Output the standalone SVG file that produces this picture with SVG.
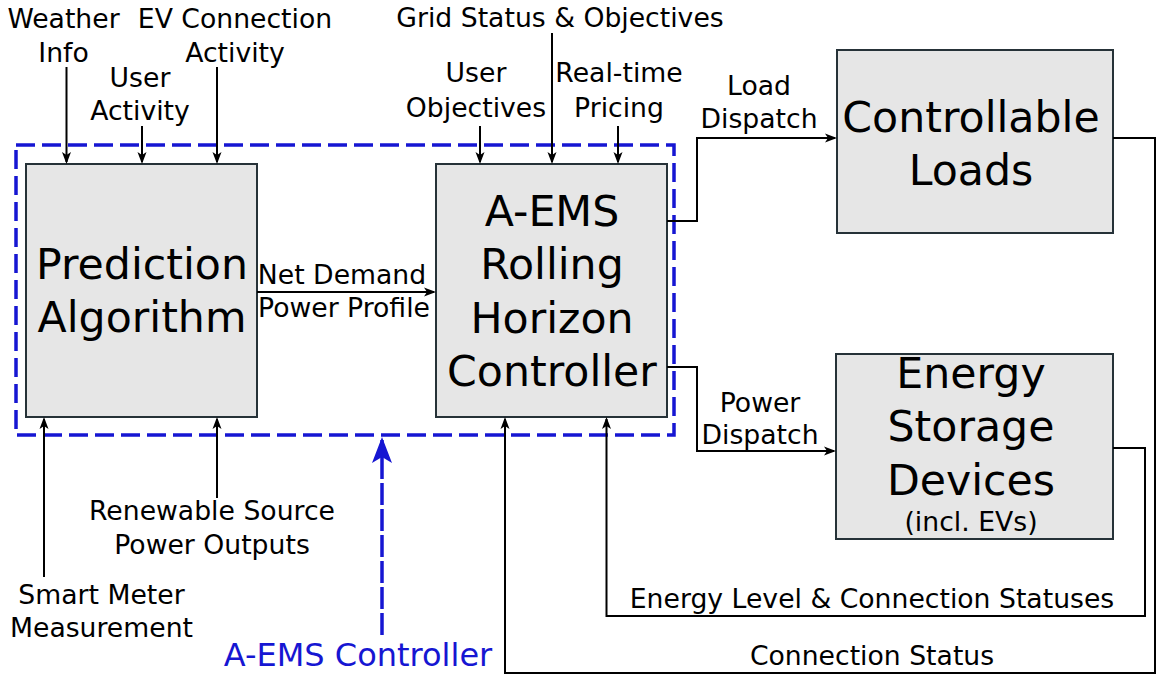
<svg xmlns="http://www.w3.org/2000/svg" width="1157" height="677" viewBox="0 0 1157 677">
<style>
text{font-family:"DejaVu Sans","Liberation Sans",sans-serif;fill:#000;text-anchor:middle}
.lbl{font-size:26.67px}
.big{font-size:42.67px}
.blue{font-size:32px;fill:#1616d2}
.box{fill:#e6e6e6;stroke:#263238;stroke-width:2}
.con{fill:none;stroke:#000;stroke-width:2;marker-end:url(#ah)}
.line{fill:none;stroke:#000;stroke-width:2}
.dash{fill:none;stroke:#1616d2;stroke-width:3.5;stroke-dasharray:19 7}
</style>
<defs>
<marker id="ah" markerUnits="userSpaceOnUse" markerWidth="12" markerHeight="10" refX="10" refY="4.5" orient="auto" overflow="visible">
<path d="M0,0 L12,4.5 L0,9 L3,4.5 z" fill="#000"/>
</marker>
<marker id="bah" markerUnits="userSpaceOnUse" markerWidth="26" markerHeight="21" refX="23" refY="10" orient="auto" overflow="visible">
<path d="M0,0 L26,10 L0,20 L6,10 z" fill="#1616d2"/>
</marker>
</defs>
<rect width="1157" height="677" fill="#fff"/>

<g id="aems-controller-group">
<rect x="16" y="145" width="658" height="290" class="dash"/>
</g>

<g id="prediction">
<rect class="box" x="26" y="164" width="231" height="253"/>
<text class="big" x="142" y="279">Prediction</text>
<text class="big" x="142" y="332">Algorithm</text>
</g>

<g id="aems">
<rect class="box" x="436" y="164" width="231" height="253"/>
<text class="big" x="552" y="226">A-EMS</text>
<text class="big" x="552" y="279">Rolling</text>
<text class="big" x="552" y="333">Horizon</text>
<text class="big" x="552" y="386">Controller</text>
</g>

<g id="loads">
<rect class="box" x="837" y="50" width="276" height="183"/>
<text class="big" x="971" y="132">Controllable</text>
<text class="big" x="971" y="185">Loads</text>
</g>

<g id="storage">
<rect class="box" x="836" y="354" width="277" height="185"/>
<text class="big" x="971" y="388">Energy</text>
<text class="big" x="971" y="441">Storage</text>
<text class="big" x="971" y="495">Devices</text>
<text class="lbl" x="971" y="531">(incl. EVs)</text>
</g>

<g id="connectors">
<path class="con" d="M66.5,67 V162"/>
<path class="con" d="M142,126 V162"/>
<path class="con" d="M217,67 V162"/>
<path class="con" d="M480,126 V162"/>
<path class="con" d="M552,33 V162"/>
<path class="con" d="M618,126 V162"/>
<path class="con" d="M257,292 H434"/>
<path class="con" d="M667,221 H697 V138 H835"/>
<path class="con" d="M667,367 H697 V451 H834"/>
<path class="con" d="M1113,448 H1145 V616 H606.5 V419"/>
<path class="con" d="M1113,138 H1155 V673 H505 V419"/>
<path class="con" d="M44,577 V419"/>
<path class="con" d="M217,498 V419"/>
<path d="M382,635 V440" fill="none" stroke="#1616d2" stroke-width="3.5" stroke-dasharray="22 4" marker-end="url(#bah)"/>
</g>

<g id="labels">
<text class="lbl" x="63.5" y="28">Weather</text>
<text class="lbl" x="63.5" y="61.5">Info</text>
<text class="lbl" x="235" y="28">EV Connection</text>
<text class="lbl" x="235" y="61.5">Activity</text>
<text class="lbl" x="140" y="86.5">User</text>
<text class="lbl" x="140" y="120">Activity</text>
<text class="lbl" x="560" y="27">Grid Status &amp; Objectives</text>
<text class="lbl" x="476" y="82">User</text>
<text class="lbl" x="476" y="116.5">Objectives</text>
<text class="lbl" x="619" y="82">Real-time</text>
<text class="lbl" x="619" y="116.5">Pricing</text>
<text class="lbl" x="759" y="95">Load</text>
<text class="lbl" x="759" y="128">Dispatch</text>
<text class="lbl" x="342" y="284">Net Demand</text>
<text class="lbl" x="344" y="317">Power Profile</text>
<text class="lbl" x="760" y="411.5">Power</text>
<text class="lbl" x="760" y="444">Dispatch</text>
<text class="lbl" x="872" y="608">Energy Level &amp; Connection Statuses</text>
<text class="lbl" x="872" y="665">Connection Status</text>
<text class="lbl" x="212" y="520">Renewable Source</text>
<text class="lbl" x="212" y="554">Power Outputs</text>
<text class="lbl" x="101.5" y="604">Smart Meter</text>
<text class="lbl" x="101.5" y="637">Measurement</text>
<text class="blue" x="358" y="666">A-EMS Controller</text>
</g>
</svg>
